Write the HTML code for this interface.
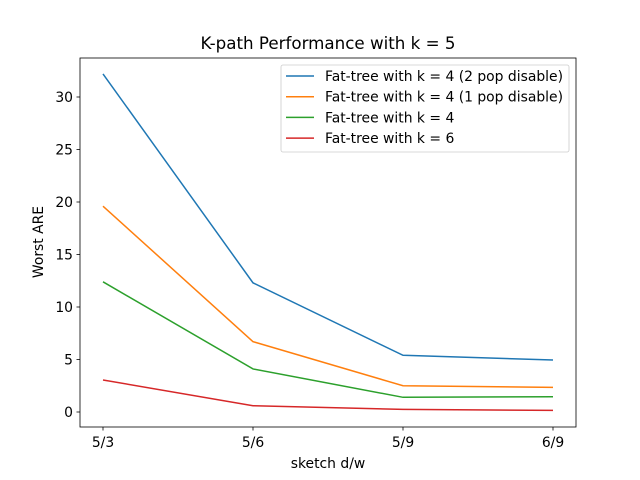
<!DOCTYPE html>
<html><head><meta charset="utf-8"><style>
body{margin:0;background:#fff;}
svg{display:block;font-family:"DejaVu Sans","Liberation Sans",sans-serif;}
</style></head><body>
<svg id="chart" width="640" height="480" viewBox="0 0 640 480"></svg>
<script>
const categories = ["5/3","5/6","5/9","6/9"];
const seriesNames = ["Fat-tree with k = 4 (2 pop disable)","Fat-tree with k = 4 (1 pop disable)","Fat-tree with k = 4","Fat-tree with k = 6"];
const blueVals = [32.2, 12.3, 5.4, 4.95];
const orangeVals = [19.6, 6.7, 2.5, 2.35];
const greenVals = [12.4, 4.1, 1.4, 1.45];
const redVals = [3.05, 0.6, 0.25, 0.15];
const yTicks = [0,5,10,15,20,25,30];
const colors = ["#1f77b4","#ff7f0e","#2ca02c","#d62728"];
const allSeries = [blueVals, orangeVals, greenVals, redVals];

const svg = document.getElementById('chart');
const NS = 'http://www.w3.org/2000/svg';
const L=80,R=576,T=58,B=427;
const x = i => 103 + i*150;
const y = v => 412 - v*10.5;
function mk(tag, attrs, parent){const e=document.createElementNS(NS,tag);for(const k in attrs)e.setAttribute(k,attrs[k]);(parent||svg).appendChild(e);return e;}

const frame = mk('rect',{x:L,y:T,width:R-L,height:B-T,fill:'none',stroke:'#000','stroke-width':0.8});



categories.forEach((c,i)=>{
  const t = mk('line',{x1:x(i),x2:x(i),y1:B,y2:B+3.5,stroke:'#000','stroke-width':0.8});
  
  
  const l = mk('text',{x:x(i),y:B+20,'text-anchor':'middle','font-size':13.9,fill:'#000'});
  l.textContent=c;
  
  
});
yTicks.forEach(v=>{
  const t = mk('line',{x1:L-3.5,x2:L,y1:y(v),y2:y(v),stroke:'#000','stroke-width':0.8});
  
  
  const l = mk('text',{x:L-7,y:y(v)+5,'text-anchor':'end','font-size':13.9,fill:'#000'});
  l.textContent=v;
  
  
});

allSeries.forEach((vals,s)=>{
  const p = mk('polyline',{points:vals.map((v,i)=>x(i)+','+y(v)).join(' '),fill:'none',stroke:colors[s],'stroke-width':1.5});
  
  
});

const title = mk('text',{x:328,y:49,'text-anchor':'middle','font-size':16.7});
title.textContent='K-path Performance with k = 5';


const xt = mk('text',{x:328,y:468,'text-anchor':'middle','font-size':13.9});
xt.textContent='sketch d/w';


const yt = mk('text',{x:0,y:0,'text-anchor':'middle','font-size':13.9,transform:'translate(43,242) rotate(-90)'});
yt.textContent='Worst ARE';



const lg = mk('g',{});


mk('rect',{x:281,y:65,width:288,height:87,rx:2,fill:'#fff',stroke:'#ccc','stroke-width':0.8},lg);
seriesNames.forEach((n,s)=>{
  const yy = 76 + s*20.7;
  const ln = mk('line',{x1:286,x2:314,y1:yy,y2:yy,stroke:colors[s],'stroke-width':1.5},lg);
  
  
  const tx = mk('text',{x:325,y:yy+5,'font-size':13.9},lg);
  tx.textContent=n;
  
  
});
</script>
</body></html>
